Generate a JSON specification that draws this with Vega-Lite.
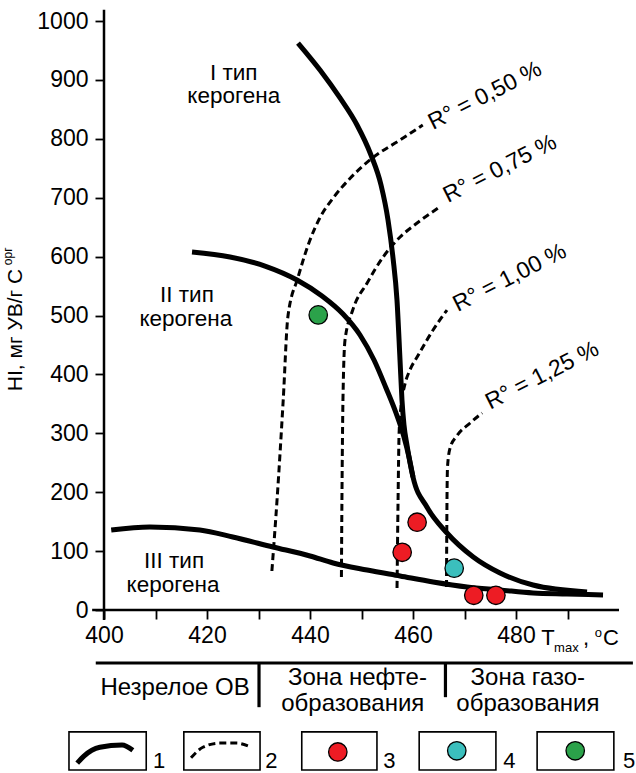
{
  "$schema": "https://vega.github.io/schema/vega-lite/v6.json",
  "width": 515,
  "height": 589,
  "autosize": {"type": "none"},
  "padding": {"left": 104, "top": 21, "right": 17, "bottom": 163},
  "background": "white",
  "config": {"view": {"stroke": null}, "font": "Liberation Sans"},
  "datasets": {
    "rules": [
      {"g": "axis", "x": 397.7, "x2": 500, "y": 0, "y2": 0},
      {"g": "axis", "x": 400, "x2": 400, "y": -17, "y2": 1019},
      {"g": "zone", "x": 398.4, "x2": 502.7, "y": -90, "y2": -90},
      {"g": "zone", "x": 430.1, "x2": 430.1, "y": -90, "y2": -165},
      {"g": "zone", "x": 466.3, "x2": 466.3, "y": -90, "y2": -148}
    ],
    "boxes": [
      {"k": 1, "x": 393.2, "x2": 408.2, "y": -207, "y2": -271.6},
      {"k": 2, "x": 415.5, "x2": 430.3, "y": -207, "y2": -271.6},
      {"k": 3, "x": 438.4, "x2": 453.0, "y": -207, "y2": -271.6},
      {"k": 4, "x": 461.2, "x2": 476.1, "y": -207, "y2": -271.6},
      {"k": 5, "x": 484.1, "x2": 499.0, "y": -207, "y2": -271.6}
    ],
    "curves": [
      {"s": "I", "kind": "solid", "i": 1, "x": 437.67, "y": 962.6},
      {"s": "I", "kind": "solid", "i": 2, "x": 441.94, "y": 916.8},
      {"s": "I", "kind": "solid", "i": 3, "x": 445.83, "y": 869.3},
      {"s": "I", "kind": "solid", "i": 4, "x": 449.13, "y": 823.4},
      {"s": "I", "kind": "solid", "i": 5, "x": 451.84, "y": 772.5},
      {"s": "I", "kind": "solid", "i": 6, "x": 453.79, "y": 721.6},
      {"s": "I", "kind": "solid", "i": 7, "x": 455.15, "y": 662.1},
      {"s": "I", "kind": "solid", "i": 8, "x": 456.12, "y": 597.6},
      {"s": "I", "kind": "solid", "i": 9, "x": 456.89, "y": 526.3},
      {"s": "I", "kind": "solid", "i": 10, "x": 457.48, "y": 424.4},
      {"s": "I", "kind": "solid", "i": 11, "x": 457.86, "y": 356.5},
      {"s": "I", "kind": "solid", "i": 12, "x": 458.25, "y": 314.1},
      {"s": "I", "kind": "solid", "i": 13, "x": 458.83, "y": 280.1},
      {"s": "I", "kind": "solid", "i": 14, "x": 460.0, "y": 225.8},
      {"s": "I", "kind": "solid", "i": 15, "x": 462.7, "y": 174.9},
      {"s": "I", "kind": "solid", "i": 16, "x": 466.6, "y": 130.7},
      {"s": "I", "kind": "solid", "i": 17, "x": 471.7, "y": 90.0},
      {"s": "I", "kind": "solid", "i": 18, "x": 476.9, "y": 62.8},
      {"s": "I", "kind": "solid", "i": 19, "x": 483.3, "y": 42.4},
      {"s": "I", "kind": "solid", "i": 20, "x": 493.8, "y": 30.6},
      {"s": "II", "kind": "solid", "i": 1, "x": 417.09, "y": 607.8},
      {"s": "II", "kind": "solid", "i": 2, "x": 424.47, "y": 599.3},
      {"s": "II", "kind": "solid", "i": 3, "x": 431.26, "y": 584.0},
      {"s": "II", "kind": "solid", "i": 4, "x": 437.48, "y": 560.3},
      {"s": "II", "kind": "solid", "i": 5, "x": 442.33, "y": 533.1},
      {"s": "II", "kind": "solid", "i": 6, "x": 446.41, "y": 502.5},
      {"s": "II", "kind": "solid", "i": 7, "x": 449.71, "y": 466.9},
      {"s": "II", "kind": "solid", "i": 8, "x": 452.43, "y": 424.4},
      {"s": "II", "kind": "solid", "i": 9, "x": 454.76, "y": 376.9},
      {"s": "II", "kind": "solid", "i": 10, "x": 456.70, "y": 334.5},
      {"s": "II", "kind": "solid", "i": 11, "x": 458.25, "y": 293.7},
      {"s": "II", "kind": "solid", "i": 12, "x": 459.22, "y": 259.8},
      {"s": "II", "kind": "solid", "i": 13, "x": 460.0, "y": 225.8},
      {"s": "III", "kind": "solid", "i": 1, "x": 401.4, "y": 135.8},
      {"s": "III", "kind": "solid", "i": 2, "x": 408.9, "y": 140.9},
      {"s": "III", "kind": "solid", "i": 3, "x": 418.6, "y": 135.8},
      {"s": "III", "kind": "solid", "i": 4, "x": 425.0, "y": 123.9},
      {"s": "III", "kind": "solid", "i": 5, "x": 432.8, "y": 107.0},
      {"s": "III", "kind": "solid", "i": 6, "x": 440.0, "y": 91.7},
      {"s": "III", "kind": "solid", "i": 7, "x": 444.5, "y": 79.8},
      {"s": "III", "kind": "solid", "i": 8, "x": 451.1, "y": 67.9},
      {"s": "III", "kind": "solid", "i": 9, "x": 457.5, "y": 57.7},
      {"s": "III", "kind": "solid", "i": 10, "x": 463.9, "y": 47.5},
      {"s": "III", "kind": "solid", "i": 11, "x": 470.5, "y": 39.0},
      {"s": "III", "kind": "solid", "i": 12, "x": 476.9, "y": 34.0},
      {"s": "III", "kind": "solid", "i": 13, "x": 483.3, "y": 28.9},
      {"s": "III", "kind": "solid", "i": 14, "x": 489.9, "y": 27.2},
      {"s": "III", "kind": "solid", "i": 15, "x": 496.9, "y": 25.5},
      {"s": "L1", "kind": "solid", "i": 1, "x": 394.8, "y": -260},
      {"s": "L1", "kind": "solid", "i": 2, "x": 396.1, "y": -248},
      {"s": "L1", "kind": "solid", "i": 3, "x": 399.2, "y": -233},
      {"s": "L1", "kind": "solid", "i": 4, "x": 403.5, "y": -229},
      {"s": "L1", "kind": "solid", "i": 5, "x": 405.6, "y": -238},
      {"s": "R050", "kind": "dash", "i": 1, "x": 432.6, "y": 66.2},
      {"s": "R050", "kind": "dash", "i": 2, "x": 433.6, "y": 186.8},
      {"s": "R050", "kind": "dash", "i": 3, "x": 434.8, "y": 356.5},
      {"s": "R050", "kind": "dash", "i": 4, "x": 435.7, "y": 497.5},
      {"s": "R050", "kind": "dash", "i": 5, "x": 437.7, "y": 565.4},
      {"s": "R050", "kind": "dash", "i": 6, "x": 440.0, "y": 628.2},
      {"s": "R050", "kind": "dash", "i": 7, "x": 441.9, "y": 665.5},
      {"s": "R050", "kind": "dash", "i": 8, "x": 444.5, "y": 699.5},
      {"s": "R050", "kind": "dash", "i": 9, "x": 447.8, "y": 733.0},
      {"s": "R050", "kind": "dash", "i": 10, "x": 452.2, "y": 768.0},
      {"s": "R050", "kind": "dash", "i": 11, "x": 457.5, "y": 798.0},
      {"s": "R050", "kind": "dash", "i": 12, "x": 461.9, "y": 823.4},
      {"s": "R075", "kind": "dash", "i": 1, "x": 446.1, "y": 56.0},
      {"s": "R075", "kind": "dash", "i": 2, "x": 446.2, "y": 186.8},
      {"s": "R075", "kind": "dash", "i": 3, "x": 446.4, "y": 356.5},
      {"s": "R075", "kind": "dash", "i": 4, "x": 446.8, "y": 458.4},
      {"s": "R075", "kind": "dash", "i": 5, "x": 448.3, "y": 509.3},
      {"s": "R075", "kind": "dash", "i": 6, "x": 451.1, "y": 555.2},
      {"s": "R075", "kind": "dash", "i": 7, "x": 454.2, "y": 599.3},
      {"s": "R075", "kind": "dash", "i": 8, "x": 457.5, "y": 633.3},
      {"s": "R075", "kind": "dash", "i": 9, "x": 460.8, "y": 657.0},
      {"s": "R075", "kind": "dash", "i": 10, "x": 465.2, "y": 684.2},
      {"s": "R100", "kind": "dash", "i": 1, "x": 456.9, "y": 37.4},
      {"s": "R100", "kind": "dash", "i": 2, "x": 457.1, "y": 186.8},
      {"s": "R100", "kind": "dash", "i": 3, "x": 457.3, "y": 300.5},
      {"s": "R100", "kind": "dash", "i": 4, "x": 457.7, "y": 348.0},
      {"s": "R100", "kind": "dash", "i": 5, "x": 458.4, "y": 382.0},
      {"s": "R100", "kind": "dash", "i": 6, "x": 459.4, "y": 407.5},
      {"s": "R100", "kind": "dash", "i": 7, "x": 460.8, "y": 429.5},
      {"s": "R100", "kind": "dash", "i": 8, "x": 463.9, "y": 475.4},
      {"s": "R100", "kind": "dash", "i": 9, "x": 466.6, "y": 509.3},
      {"s": "R125", "kind": "dash", "i": 1, "x": 466.5, "y": 39.0},
      {"s": "R125", "kind": "dash", "i": 2, "x": 466.6, "y": 186.8},
      {"s": "R125", "kind": "dash", "i": 3, "x": 466.7, "y": 242.8},
      {"s": "R125", "kind": "dash", "i": 4, "x": 467.2, "y": 275.0},
      {"s": "R125", "kind": "dash", "i": 5, "x": 468.5, "y": 295.4},
      {"s": "R125", "kind": "dash", "i": 6, "x": 471.1, "y": 317.5},
      {"s": "R125", "kind": "dash", "i": 7, "x": 473.4, "y": 334.5},
      {"s": "L2", "kind": "dash", "i": 1, "x": 416.9, "y": -251},
      {"s": "L2", "kind": "dash", "i": 2, "x": 419.2, "y": -233},
      {"s": "L2", "kind": "dash", "i": 3, "x": 422.5, "y": -226},
      {"s": "L2", "kind": "dash", "i": 4, "x": 425.8, "y": -226},
      {"s": "L2", "kind": "dash", "i": 5, "x": 428.0, "y": -231}
    ],
    "samples": [
      {"type": "3", "x": 441.6, "y": 501, "where": "plot"},
      {"type": "1", "x": 460.8, "y": 149, "where": "plot"},
      {"type": "1", "x": 457.9, "y": 98, "where": "plot"},
      {"type": "2", "x": 468.0, "y": 71, "where": "plot"},
      {"type": "1", "x": 471.8, "y": 25, "where": "plot"},
      {"type": "1", "x": 476.1, "y": 25, "where": "plot"},
      {"type": "1", "x": 445.4, "y": -241, "where": "legend"},
      {"type": "2", "x": 468.5, "y": -239, "where": "legend"},
      {"type": "3", "x": 491.5, "y": -239, "where": "legend"}
    ],
    "texts": [
      {"g": "c23", "t": "I тип", "x": 425.2, "y": 899.8},
      {"g": "c23", "t": "керогена", "x": 425.2, "y": 860.8},
      {"g": "c23", "t": "II тип", "x": 416.1, "y": 522.9},
      {"g": "c23", "t": "керогена", "x": 415.9, "y": 482.2},
      {"g": "c23", "t": "III тип", "x": 413.6, "y": 71.3},
      {"g": "c23", "t": "керогена", "x": 413.4, "y": 30.6},
      {"g": "c24", "t": "Незрелое ОВ", "x": 413.8, "y": -144.3},
      {"g": "c24", "t": "Зона нефте-", "x": 449.2, "y": -127.3},
      {"g": "c24", "t": "образования", "x": 448.3, "y": -171.5},
      {"g": "c24", "t": "Зона газо-", "x": 482.3, "y": -127.3},
      {"g": "c24", "t": "образования", "x": 482.3, "y": -171.5},
      {"g": "l22", "t": "1", "x": 409.5, "y": -268.3},
      {"g": "l22", "t": "2", "x": 431.3, "y": -268.3},
      {"g": "l22", "t": "3", "x": 454.2, "y": -268.3},
      {"g": "l22", "t": "4", "x": 477.5, "y": -268.3},
      {"g": "l22", "t": "5", "x": 500.8, "y": -268.3},
      {"g": "l22", "t": "T", "x": 484.9, "y": -59.4},
      {"g": "l22", "t": ",", "x": 493.0, "y": -59.4},
      {"g": "l22", "t": "C", "x": 496.9, "y": -59.4},
      {"g": "l13", "t": "max", "x": 487.4, "y": -71.3},
      {"g": "l13", "t": "o", "x": 495.3, "y": -46.5},
      {"g": "ro", "t": "R° = 0,50 %", "x": 463.9, "y": 815},
      {"g": "ro", "t": "R° = 0,75 %", "x": 466.8, "y": 691},
      {"g": "ro", "t": "R° = 1,00 %", "x": 468.7, "y": 506},
      {"g": "ro", "t": "R° = 1,25 %", "x": 475.0, "y": 340},
      {"g": "yt", "t": "HI, мг УВ/г C", "x": 384.1, "y": 475.4},
      {"g": "ys", "t": "орг", "x": 382.1, "y": 600.5}
    ]
  },
  "encoding": {
    "x": {"field": "x", "type": "quantitative", "scale": {"domain": [400, 500], "nice": false, "zero": false}, "title": null},
    "y": {"field": "y", "type": "quantitative", "scale": {"domain": [0, 1000], "nice": false, "zero": false}, "title": null}
  },
  "layer": [
    {
      "data": {"name": "rules"},
      "mark": {"type": "rule", "color": "black"},
      "encoding": {
        "x": {"field": "x", "type": "quantitative",
          "axis": {"values": [400, 410, 420, 430, 440, 450, 460, 470, 480, 490], "format": "d", "labelExpr": "datum.value % 20 == 0 ? datum.label : ''", "domain": false, "grid": false, "tickSize": 9, "tickWidth": 1.8, "tickColor": "black", "labelFontSize": 23, "labelColor": "black", "labelPadding": 5, "labelFont": "Liberation Sans", "labelFlush": false}},
        "x2": {"field": "x2"},
        "y": {"field": "y", "type": "quantitative",
          "axis": {"values": [0, 100, 200, 300, 400, 500, 600, 700, 800, 900, 1000], "format": "d", "domain": false, "grid": false, "tickSize": 9, "tickWidth": 1.8, "tickColor": "black", "labelFontSize": 23, "labelColor": "black", "labelPadding": 7, "labelFont": "Liberation Sans", "labelFlush": false}},
        "y2": {"field": "y2"},
        "strokeWidth": {"field": "g", "type": "nominal", "scale": {"domain": ["axis", "zone"], "range": [2.5, 3.2]}, "legend": null}
      }
    },
    {
      "data": {"name": "boxes"},
      "mark": {"type": "rect", "fill": "white", "stroke": "black", "strokeWidth": 1.6},
      "encoding": {"x2": {"field": "x2"}, "y2": {"field": "y2"}}
    },
    {
      "data": {"name": "curves"},
      "transform": [{"filter": "datum.kind == 'solid'"}],
      "mark": {"type": "line", "color": "black", "strokeWidth": 5, "interpolate": "monotone", "strokeCap": "butt"},
      "encoding": {"detail": {"field": "s", "type": "nominal"}, "order": {"field": "i", "type": "quantitative"}}
    },
    {
      "data": {"name": "curves"},
      "transform": [{"filter": "datum.kind == 'dash'"}],
      "mark": {"type": "line", "color": "black", "strokeWidth": 3, "strokeDash": [7, 4], "interpolate": "monotone", "strokeCap": "butt"},
      "encoding": {"detail": {"field": "s", "type": "nominal"}, "order": {"field": "i", "type": "quantitative"}}
    },
    {
      "data": {"name": "samples"},
      "mark": {"type": "point", "shape": "circle", "filled": true, "size": 340, "stroke": "black", "strokeWidth": 1.3, "opacity": 1},
      "encoding": {
        "fill": {"field": "type", "type": "nominal", "scale": {"domain": ["1", "2", "3"], "range": ["#ED1C24", "#3BBFBD", "#2BA24A"]}, "legend": null}
      }
    },
    {
      "data": {"name": "texts"},
      "transform": [{"filter": "datum.g == 'c23'"}],
      "mark": {"type": "text", "font": "Liberation Sans", "fontSize": 22.5, "align": "center", "baseline": "alphabetic", "color": "black"},
      "encoding": {"text": {"field": "t", "type": "nominal"}}
    },
    {
      "data": {"name": "texts"},
      "transform": [{"filter": "datum.g == 'c24'"}],
      "mark": {"type": "text", "font": "Liberation Sans", "fontSize": 24, "align": "center", "baseline": "alphabetic", "color": "black"},
      "encoding": {"text": {"field": "t", "type": "nominal"}}
    },
    {
      "data": {"name": "texts"},
      "transform": [{"filter": "datum.g == 'l22'"}],
      "mark": {"type": "text", "font": "Liberation Sans", "fontSize": 22, "align": "left", "baseline": "alphabetic", "color": "black"},
      "encoding": {"text": {"field": "t", "type": "nominal"}}
    },
    {
      "data": {"name": "texts"},
      "transform": [{"filter": "datum.g == 'l13'"}],
      "mark": {"type": "text", "font": "Liberation Sans", "fontSize": 13, "align": "left", "baseline": "alphabetic", "color": "black"},
      "encoding": {"text": {"field": "t", "type": "nominal"}}
    },
    {
      "data": {"name": "texts"},
      "transform": [{"filter": "datum.g == 'ro'"}],
      "mark": {"type": "text", "font": "Liberation Sans", "fontSize": 23, "align": "left", "baseline": "alphabetic", "angle": 333, "color": "black"},
      "encoding": {"text": {"field": "t", "type": "nominal"}}
    },
    {
      "data": {"name": "texts"},
      "transform": [{"filter": "datum.g == 'yt'"}],
      "mark": {"type": "text", "font": "Liberation Sans", "fontSize": 21, "align": "center", "baseline": "alphabetic", "angle": 270, "color": "black"},
      "encoding": {"text": {"field": "t", "type": "nominal"}}
    },
    {
      "data": {"name": "texts"},
      "transform": [{"filter": "datum.g == 'ys'"}],
      "mark": {"type": "text", "font": "Liberation Sans", "fontSize": 12, "align": "center", "baseline": "alphabetic", "angle": 270, "color": "black"},
      "encoding": {"text": {"field": "t", "type": "nominal"}}
    }
  ]
}
